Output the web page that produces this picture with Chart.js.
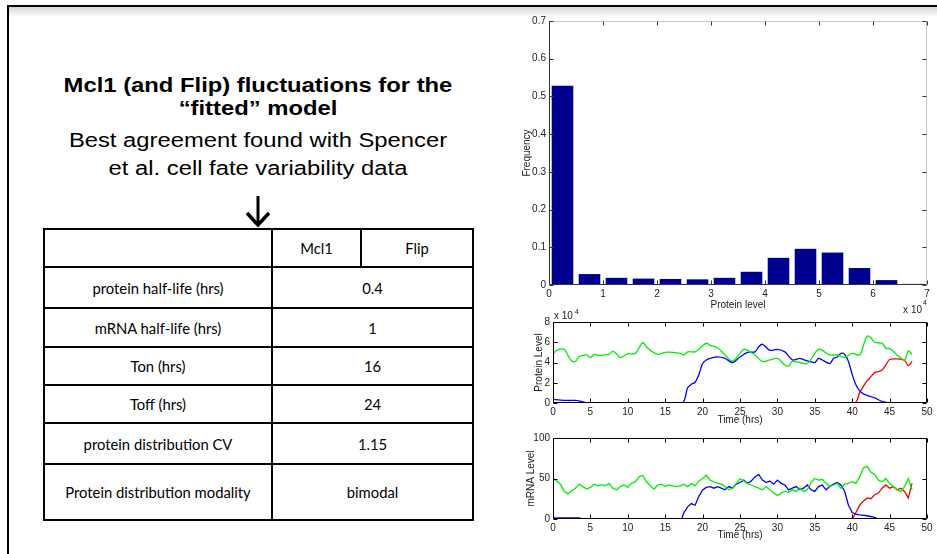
<!DOCTYPE html>
<html>
<head>
<meta charset="utf-8">
<script src="https://cdn.jsdelivr.net/npm/chart.js@4.4.1/dist/chart.umd.min.js"></script>
<style>
  body { margin: 0; width: 937px; height: 554px; overflow: hidden; background: #fff; position: relative;
         font-family: "Liberation Sans", Arial, sans-serif; }
  .frame-top { position: absolute; left: 7px; top: 5px; width: 930px; height: 2px; background: #000; }
  .shadow { position: absolute; left: 9px; top: 7px; width: 928px; height: 10px;
            background: linear-gradient(#d6d6d6, rgba(255,255,255,0)); }
  .frame-left { position: absolute; left: 7px; top: 5px; width: 2px; height: 549px; background: #000; }
  .title { position: absolute; left: 43px; width: 430px; top: 74px; text-align: center;
           font-weight: bold; font-size: 20px; line-height: 23px; transform: scaleX(1.19); }
  .sub { position: absolute; left: 43px; width: 430px; top: 126px; text-align: center;
         font-size: 19.5px; line-height: 28px; transform: scaleX(1.22); }
  .arrow { position: absolute; left: 244px; top: 194px; }
  table { position: absolute; left: 43px; top: 228px; border-collapse: collapse;
          font-family: Lato, "Open Sans", sans-serif; font-size: 14.8px; }
  td { border: 2.5px solid #000; text-align: center; padding: 0; }
  canvas { position: absolute; }
</style>
</head>
<body>
<div class="frame-top"></div>
<div class="shadow"></div>
<div class="frame-left"></div>

<div class="title">Mcl1 (and Flip) fluctuations for the<br>“fitted” model</div>
<div class="sub">Best agreement found with Spencer<br>et al. cell fate variability data</div>
<svg class="arrow" width="28" height="36">
  <line x1="14" y1="2" x2="14" y2="31" stroke="#000" stroke-width="3"/>
  <polyline points="3,19 14,31 25,19" fill="none" stroke="#000" stroke-width="3.5"/>
</svg>

<table>
  <tr style="height:38px"><td style="width:226px"></td><td style="width:87px">Mcl1</td><td style="width:110px">Flip</td></tr>
  <tr style="height:41px"><td>protein half-life (hrs)</td><td colspan="2">0.4</td></tr>
  <tr style="height:39px"><td>mRNA half-life (hrs)</td><td colspan="2">1</td></tr>
  <tr style="height:38px"><td>Ton (hrs)</td><td colspan="2">16</td></tr>
  <tr style="height:38px"><td>Toff (hrs)</td><td colspan="2">24</td></tr>
  <tr style="height:41px"><td>protein distribution CV</td><td colspan="2">1.15</td></tr>
  <tr style="height:56px"><td>Protein distribution modality</td><td colspan="2">bimodal</td></tr>
</table>

<canvas id="hist" width="437" height="305" style="left:500px;top:10px"></canvas>
<canvas id="protein" width="437" height="125" style="left:500px;top:305px"></canvas>
<canvas id="mrna" width="437" height="129" style="left:500px;top:425px"></canvas>

<script>
// histogram (protein level in units of 10^4)
const binCenters = [0.25, 0.75, 1.25, 1.75, 2.25, 2.75, 3.25, 3.75, 4.25, 4.75, 5.25, 5.75, 6.25, 6.75];
const binFreq = [0.528, 0.029, 0.019, 0.017, 0.016, 0.015, 0.019, 0.035, 0.072, 0.096, 0.086, 0.045, 0.013, 0.003];

// protein traces (units of 10^4)
const protGreenT = [0, 0.5, 1.5, 2, 2.5, 3, 3.5, 4, 4.5, 5, 5.5, 6, 7, 7.5, 8, 8.5, 9, 10, 11, 11.5, 12, 12.5, 13, 14, 15, 16, 17, 17.5, 18, 19, 19.5, 20, 20.5, 21, 22, 23, 24, 25, 25.5, 26, 27, 28, 29, 30, 31, 31.5, 32, 33, 34, 35, 35.5, 36, 37, 38, 39, 40, 41, 41.5, 42, 42.5, 43, 44, 44.5, 45, 46, 47, 47.5, 48];
const protGreen = [4.8, 5.2, 5.3, 4.7, 4.15, 4.1, 4.6, 4.7, 4.75, 4.5, 4.8, 4.7, 4.75, 4.8, 5.1, 4.85, 4.5, 4.85, 4.9, 5.45, 5.95, 5.55, 5.2, 4.8, 5.0, 5.0, 4.9, 4.75, 5.05, 5.05, 5.3, 5.65, 5.9, 5.7, 5.45, 4.75, 4.15, 4.9, 5.3, 5.2, 4.75, 4.1, 4.25, 4.4, 3.75, 3.65, 4.1, 4.0, 3.9, 4.9, 5.3, 5.2, 4.75, 4.75, 4.5, 4.9, 4.75, 5.7, 6.6, 6.45, 6.0, 5.9, 5.4, 5.4, 4.75, 4.25, 5.15, 4.8];
const protBlueT = [0, 1, 2, 3, 3.5, 4, 5, 17.2, 18, 18.5, 19, 19.5, 20, 20.5, 21, 22, 23, 24, 25, 26, 27, 27.5, 28, 29, 30, 31, 32, 33, 34, 35, 35.5, 36, 37, 37.5, 38, 38.5, 39, 39.5, 40, 40.5, 41, 41.5, 42, 43, 44, 45, 48];
const protBlue = [0.35, 0.28, 0.25, 0.25, 0.2, 0.1, 0, 0, 1.5, 1.85, 2.05, 2.8, 3.9, 4.25, 4.4, 4.55, 4.4, 4.0, 4.55, 5.0, 5.05, 5.55, 5.8, 5.2, 5.3, 5.05, 4.25, 4.4, 4.15, 4.0, 4.4, 4.25, 3.9, 4.4, 4.55, 4.9, 4.8, 4.1, 2.8, 1.8, 1.2, 0.9, 0.75, 0.5, 0.15, 0, 0];
const protRedT = [0, 40.3, 41, 41.5, 42, 42.5, 43, 43.5, 44, 44.5, 45, 46, 47, 47.5, 48];
const protRed = [0, 0, 1.0, 1.65, 2.2, 2.6, 3.0, 3.1, 3.25, 3.75, 4.3, 4.35, 4.2, 3.7, 4.1];

// mRNA traces
const mrnaGreenT = [0, 0.5, 1, 1.5, 2, 2.5, 3, 3.5, 4, 4.5, 5, 5.5, 6, 6.5, 7, 7.5, 8, 8.5, 9, 9.5, 10, 10.5, 11, 11.5, 12, 12.5, 13, 13.5, 14, 14.5, 15, 15.5, 16, 16.5, 17, 17.5, 18, 18.5, 19, 19.5, 20, 20.5, 21, 21.5, 22, 22.5, 23, 23.5, 24, 24.5, 25, 25.5, 26, 26.5, 27, 27.5, 28, 28.5, 29, 29.5, 30, 30.5, 31, 31.5, 32, 32.5, 33, 33.5, 34, 34.5, 35, 35.5, 36, 36.5, 37, 37.5, 38, 38.5, 39, 39.5, 40, 40.5, 41, 41.5, 42, 42.5, 43, 43.5, 44, 44.5, 45, 45.5, 46, 46.5, 47, 47.5, 48];
const mrnaGreen = [50, 47, 43, 34, 31, 35, 38, 43, 40, 37, 39, 43, 41, 42, 41, 44, 38, 36, 40, 42, 39, 44, 46, 52, 54, 46, 41, 37, 42, 43, 40, 42, 41, 40, 41, 43, 40, 44, 41, 47, 50, 54, 48, 46, 44, 43, 40, 36, 38, 44, 50, 47, 44, 42, 40, 38, 36, 40, 36, 32, 29, 32, 34, 33, 36, 34, 38, 34, 36, 45, 50, 48, 49, 44, 40, 42, 44, 38, 43, 44, 46, 44, 52, 63, 65, 58, 55, 48, 46, 50, 44, 40, 36, 34, 40, 50, 36];
const mrnaBlueT = [0, 3.6, 3.7, 17.2, 17.5, 18, 18.5, 19, 19.5, 20, 20.5, 21, 21.5, 22, 22.5, 23, 23.5, 24, 24.5, 25, 25.5, 26, 26.5, 27, 27.5, 28, 28.5, 29, 29.5, 30, 30.5, 31, 31.5, 32, 32.5, 33, 33.5, 34, 34.5, 35, 35.5, 36, 36.5, 37, 37.5, 38, 38.5, 39, 39.5, 40, 40.5, 41, 42, 43, 43.5, 48];
const mrnaBlue = [1.5, 1.5, 0, 0, 8, 15, 19, 17, 28, 36, 39, 40, 38, 40, 38, 36, 40, 38, 43, 45, 48, 44, 47, 52, 55, 48, 45, 47, 43, 48, 44, 42, 36, 38, 40, 36, 38, 42, 36, 34, 40, 42, 36, 40, 43, 45, 42, 34, 17, 8, 6, 5, 4, 2, 0, 0];
const mrnaRedT = [0, 40, 40.5, 41, 41.5, 42, 42.5, 43, 43.5, 44, 44.5, 45, 45.5, 46, 46.5, 47, 47.5, 48];
const mrnaRed = [0, 0, 8, 17, 22, 26, 25, 30, 32, 38, 42, 38, 40, 36, 38, 34, 26, 44];

const pts = (t, v) => t.map((x, i) => ({ x: x, y: v[i] }));

Chart.defaults.animation = false;
Chart.defaults.font.family = '"Liberation Sans", Arial, sans-serif';
Chart.defaults.font.size = 10;
Chart.defaults.color = '#222';

// box round the plot with inward ticks, like matlab
const matlabBox = {
    id: 'matlabBox',
    afterDatasetsDraw(chart, args, opts) {
        const { ctx, chartArea: a, scales } = chart;
        const L = Math.round(a.left) + 0.5, R = Math.round(a.right) - 0.5;
        const T = Math.round(a.top) + 0.5, B = Math.round(a.bottom) - 0.5;
        ctx.save();
        ctx.lineWidth = 1;
        ctx.strokeStyle = opts.farColor || '#000';
        ctx.beginPath();
        ctx.moveTo(L, T); ctx.lineTo(R, T); ctx.lineTo(R, B);
        ctx.stroke();
        ctx.strokeStyle = opts.color || '#000';
        ctx.beginPath();
        ctx.moveTo(L, T); ctx.lineTo(L, B); ctx.lineTo(R, B);
        scales.x.ticks.forEach(t => {
            const px = Math.round(scales.x.getPixelForValue(t.value)) + 0.5;
            ctx.moveTo(px, B); ctx.lineTo(px, B - 4);
            ctx.moveTo(px, T); ctx.lineTo(px, T + 4);
        });
        scales.y.ticks.forEach(t => {
            const py = Math.round(scales.y.getPixelForValue(t.value)) + 0.5;
            ctx.moveTo(L, py); ctx.lineTo(L + 4, py);
            ctx.moveTo(R, py); ctx.lineTo(R - 4, py);
        });
        ctx.stroke();
        if (opts.exp) {
            ctx.fillStyle = '#222';
            ctx.textBaseline = 'alphabetic';
            if (opts.exp === 'top') {
                ctx.font = '10px "Liberation Sans", Arial';
                ctx.textAlign = 'left';
                ctx.fillText('x 10', a.left + 1, a.top - 3);
                ctx.font = '7px "Liberation Sans", Arial';
                ctx.fillText('4', a.left + 22, a.top - 8);
            } else {
                ctx.font = '10px "Liberation Sans", Arial';
                ctx.textAlign = 'right';
                ctx.fillText('x 10', a.right - 5, a.bottom + 28);
                ctx.font = '7px "Liberation Sans", Arial';
                ctx.textAlign = 'left';
                ctx.fillText('4', a.right - 4, a.bottom + 20);
            }
        }
        ctx.restore();
    }
};

function axis(min, max, step, title, size, titlePad) {
    return {
        type: 'linear', min: min, max: max, offset: false,
        grid: { display: false, drawTicks: false },
        border: { display: false },
        ticks: { stepSize: step, padding: 3, maxRotation: 0, autoSkip: false },
        title: { display: true, text: title, padding: titlePad },
        afterFit: s => { if (s.isHorizontal()) s.height = size; else s.width = size; }
    };
}

function lineSet(data, color, tension) {
    return { data: data, borderColor: color, borderWidth: 1.3, pointRadius: 0, tension: tension, fill: false };
}

new Chart(document.getElementById('hist'), {
    type: 'bar',
    data: {
        datasets: [{
            data: pts(binCenters, binFreq),
            backgroundColor: '#00008f',
            borderWidth: 0,
            barPercentage: 0.8,
            categoryPercentage: 1.0
        }]
    },
    options: {
        responsive: false,
        layout: { padding: { left: 0, right: 10, top: 11, bottom: 0 } },
        plugins: { legend: { display: false }, tooltip: { enabled: false },
                   matlabBox: { color: '#333', farColor: '#c8c8c8', exp: 'bottom' } },
        scales: {
            x: axis(0, 7, 1, 'Protein level', 30, { top: 0, bottom: 4 }),
            y: axis(0, 0.7, 0.1, 'Frequency', 49, { top: 21, bottom: 0 })
        }
    },
    plugins: [matlabBox]
});

new Chart(document.getElementById('protein'), {
    type: 'line',
    data: {
        datasets: [
            lineSet(pts(protGreenT, protGreen), '#00ee00', 0.35),
            lineSet(pts(protBlueT, protBlue), '#0000ff', 0.3),
            lineSet(pts(protRedT, protRed), '#ff0000', 0.3)
        ]
    },
    options: {
        responsive: false,
        layout: { padding: { left: 0, right: 10, top: 17, bottom: 0 } },
        plugins: { legend: { display: false }, tooltip: { enabled: false },
                   matlabBox: { exp: 'top' } },
        scales: {
            x: axis(0, 50, 5, 'Time (hrs)', 27, { top: 0, bottom: 4 }),
            y: axis(0, 8, 2, 'Protein Level', 53, { top: 33, bottom: 0 })
        }
    },
    plugins: [matlabBox]
});

new Chart(document.getElementById('mrna'), {
    type: 'line',
    data: {
        datasets: [
            lineSet(pts(mrnaGreenT, mrnaGreen), '#00ee00', 0),
            lineSet(pts(mrnaBlueT, mrnaBlue), '#0000ff', 0),
            lineSet(pts(mrnaRedT, mrnaRed), '#ee0000', 0)
        ]
    },
    options: {
        responsive: false,
        layout: { padding: { left: 0, right: 10, top: 13, bottom: 9 } },
        plugins: { legend: { display: false }, tooltip: { enabled: false },
                   matlabBox: {} },
        scales: {
            x: axis(0, 50, 5, 'Time (hrs)', 26, { top: 0, bottom: 4 }),
            y: axis(0, 100, 50, 'mRNA Level', 53, { top: 25, bottom: 0 })
        }
    },
    plugins: [matlabBox]
});
</script>
</body>
</html>
